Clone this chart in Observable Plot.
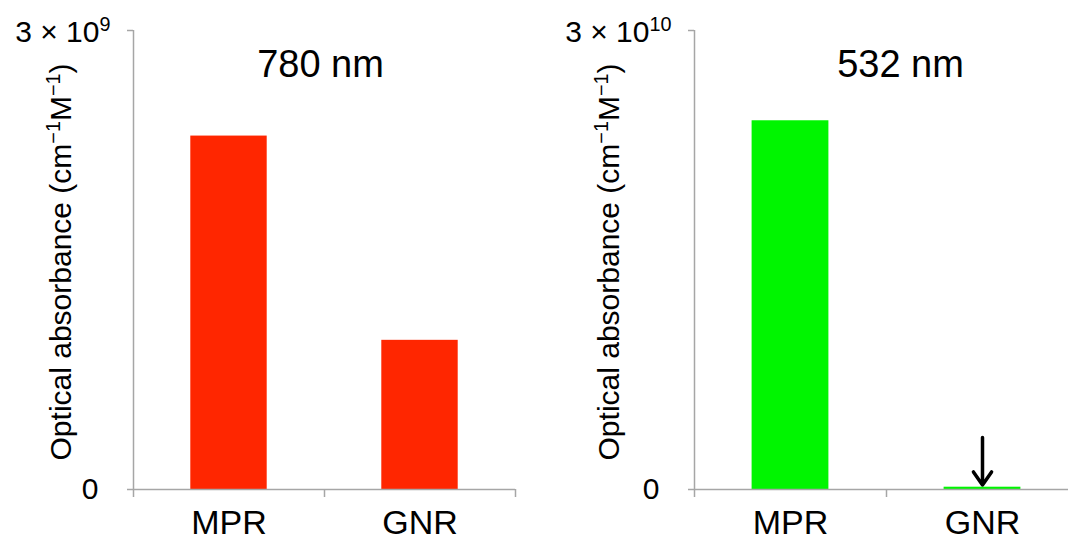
<!DOCTYPE html>
<html>
<head>
<meta charset="utf-8">
<script src="https://cdn.jsdelivr.net/npm/d3@7"></script>
<script src="https://cdn.jsdelivr.net/npm/@observablehq/plot@0.6"></script>
<style>
  html, body { margin: 0; padding: 0; background: #fff; }
  #wrap { position: relative; width: 1068px; height: 541px; overflow: hidden; background: #fff; }
  #left, #right { position: absolute; top: 0; }
  #left { left: 0; width: 534px; }
  #right { left: 534px; width: 560px; }
  #wrap svg { max-width: none !important; }
</style>
</head>
<body>
<div id="wrap"><div id="left"></div><div id="right"></div></div>
<script>
// ---- data ----
const categories = ["MPR", "GNR"];
const values780 = [2.31e9, 0.975e9];
const values532 = [2.41e10, 0.015e10];
const yMax780 = 3e9;
const yMax532 = 3e10;
const topLabel780 = "3 × 10^{9}";
const topLabel532 = "3 × 10^{10}";
const zeroLabel = "0";
const titles = ["780 nm", "532 nm"];
const yLabel = "Optical absorbance (cm^{−1}M^{−1})";
const arrowCategory = "GNR";
const arrowFrom532 = [3.4e9];
const arrowTo532 = [0.3e9];

const FONT = "'Liberation Sans', Arial, Helvetica, sans-serif";
const GRAY = "#a6a6a6";

function supify(svg) {
  svg.querySelectorAll("text").forEach(t => {
    const s = t.textContent;
    if (!s.includes("^{")) return;
    const parts = s.split(/\^\{([^}]*)\}/);
    while (t.firstChild) t.removeChild(t.firstChild);
    parts.forEach((p, k) => {
      if (!p) return;
      const ts = document.createElementNS("http://www.w3.org/2000/svg", "tspan");
      ts.textContent = p;
      if (k % 2 === 1) {
        ts.setAttribute("baseline-shift", "super");
        ts.setAttribute("font-size", "66%");
      }
      t.appendChild(ts);
    });
  });
}

function panel({values, yMax, topLabel, title, color, width, marginLeft, marginRight, titleDx, yLabelDx, extra = []}) {
  const n = categories.length;
  const data = categories.map((c, i) => ({c, i, v: values[i]}));
  const svg = Plot.plot({
    width, height: 541,
    marginLeft, marginRight, marginTop: 30, marginBottom: 52,
    style: {fontFamily: FONT, fontSize: "28px", color: "black", background: "white", overflow: "visible", maxWidth: "none"},
    x: {type: "linear", domain: [0, n], axis: null, label: null},
    y: {domain: [0, yMax], axis: null, label: null},
    marks: [
      Plot.rectY(data, {x1: d => d.i + 0.3, x2: d => d.i + 0.7, y1: () => 0, y2: "v", fill: color}),
      Plot.ruleX([0], {y1: () => 0, y2: () => yMax, stroke: GRAY, strokeWidth: 1.5}),
      Plot.ruleY([0], {x1: () => 0, x2: () => n, stroke: GRAY, strokeWidth: 1.5}),
      Plot.axisX({ticks: d3.range(n + 1), tickSize: 8, tickFormat: () => "", label: null, stroke: GRAY, strokeWidth: 1.5}),
      Plot.axisY({ticks: [0, yMax], tickSize: 6, tickFormat: () => "", label: null, stroke: GRAY, strokeWidth: 1.5}),
      Plot.text([zeroLabel], {x: () => 0, y: () => 0, text: d => d, textAnchor: "end", dx: -35, fontSize: 30, fill: "black"}),
      Plot.text([topLabel], {x: () => 0, y: () => yMax, text: d => d, textAnchor: "end", dx: -23, dy: 2, fontSize: 30, fill: "black"}),
      Plot.text(data, {x: d => d.i + 0.5, y: () => 0, text: "c", dy: 34, fontSize: 34, fill: "black"}),
      Plot.text([title], {frameAnchor: "top", text: d => d, dx: titleDx, dy: 20, fontSize: 38, fill: "black"}),
      Plot.text([yLabel], {frameAnchor: "left", text: d => d, rotate: -90, textAnchor: "middle", lineAnchor: "middle", dx: yLabelDx, dy: 2, fontSize: 30, fill: "black"}),
      ...extra
    ]
  });
  supify(svg);
  return svg;
}

document.getElementById("left").appendChild(panel({
  values: values780, yMax: yMax780, topLabel: topLabel780, title: titles[0],
  color: "#ff2600", width: 534, marginLeft: 133, marginRight: 19, titleDx: -4, yLabelDx: -72
}));

const ai = categories.indexOf(arrowCategory) + 0.5;
document.getElementById("right").appendChild(panel({
  values: values532, yMax: yMax532, topLabel: topLabel532, title: titles[1],
  color: "#00f500", width: 560, marginLeft: 160, marginRight: 16, titleDx: 14, yLabelDx: -85,
  extra: [
    Plot.arrow(arrowFrom532, {x1: () => ai, x2: () => ai, y1: d => d, y2: (d, k) => arrowTo532[k],
      stroke: "black", strokeWidth: 3.5, headLength: 16, headAngle: 70})
  ]
}));
</script>
</body>
</html>
